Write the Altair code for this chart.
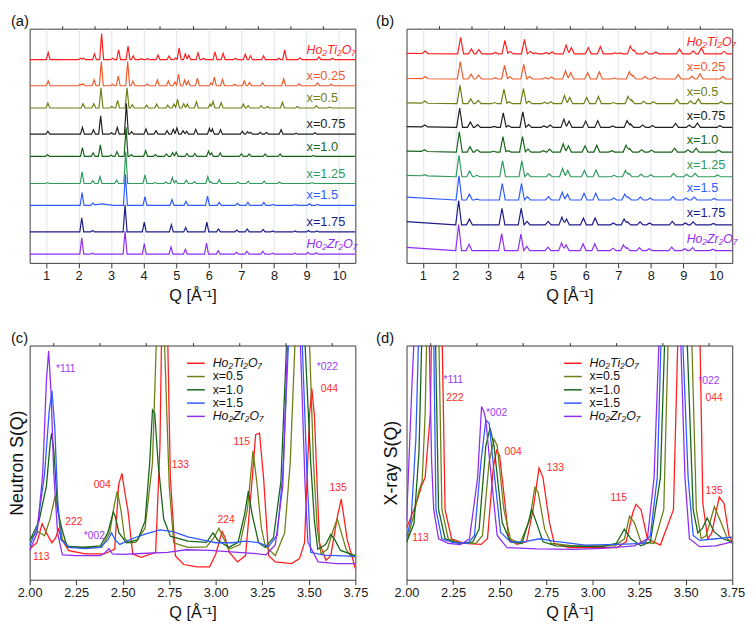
import altair as alt
import pandas as pd

FONT = "Liberation Sans"

NAMES = ["Ho₂Ti₂O₇", "x=0.25", "x=0.5", "x=0.75", "x=1.0", "x=1.25", "x=1.5", "x=1.75", "Ho₂Zr₂O₇"]
COLORS = ["#ff1e1e", "#f15a2b", "#6f7f16", "#1f221c", "#17651a", "#2f9a5c", "#2f5bff", "#1d1d8a", "#8f2ef2"]

# ---------------- (a) neutron S(Q): baselines and peaks (Q, height[, half-width])
N_BASE = [210, 183, 160, 133, 110, 82, 59.5, 32, 9]
N_START = [0, 0, 0, 0, 0, 0, 0, 0, 0]
N_TI = [(1.07, 7.3), (2.06, 1.5), (2.15, 1.7), (2.49, 6), (2.71, 27), (3.05, 1.5), (3.23, 10), (3.52, 14),
        (3.68, 4), (3.93, 1), (4.12, 1.2), (4.44, 4.7), (4.78, 3.7), (4.98, 1.7), (5.09, 12.3), (5.28, 6),
        (5.39, 4.5), (5.67, 7), (5.84, 1.5), (6.19, 8), (6.44, 6.5), (6.82, 1.5), (7.12, 5.5), (7.28, 4),
        (7.68, 4), (8.15, 1.5), (8.33, 10), (8.80, 2), (9.38, 3), (9.80, 1.5)]
N_025 = [(1.07, 5), (2.05, 1.5), (2.14, 2.3), (2.48, 6), (2.70, 25), (3.04, 1.5), (3.22, 10), (3.51, 25),
         (3.67, 4.7), (4.11, 1.7), (4.42, 6), (4.76, 5), (4.96, 4), (5.07, 12), (5.26, 6), (5.37, 5),
         (5.65, 8), (6.07, 3), (6.17, 9), (6.42, 6.5), (6.80, 1.5), (7.09, 5), (7.25, 3.5), (7.65, 3),
         (8.30, 7), (8.77, 2), (9.34, 3), (9.76, 1.5)]
N_050 = [(1.06, 5), (2.14, 4.5), (2.47, 4.5), (2.69, 21), (3.02, 1.5), (3.20, 8), (3.49, 21), (3.65, 3.5),
         (4.09, 3), (4.40, 4), (4.74, 3), (4.93, 4), (5.04, 9), (5.23, 4.5), (5.34, 4), (5.62, 6.5),
         (6.04, 4), (6.13, 7), (6.38, 5.5), (7.06, 4), (7.21, 2.5), (7.61, 2.5), (7.80, 1.5), (8.26, 6),
         (8.72, 1.5), (9.30, 2.5), (9.71, 1)]
N_075 = [(1.06, 3), (2.12, 7), (2.46, 4.5), (2.68, 19), (3.01, 1.5), (3.19, 7), (3.47, 32), (3.63, 2.5),
         (4.07, 5.5), (4.38, 3.5), (4.72, 3.5), (4.91, 5), (5.02, 6.5), (5.21, 3.5), (5.32, 3), (5.60, 5),
         (6.02, 6), (6.11, 5.5), (6.36, 4.5), (7.03, 3), (7.19, 2.5), (7.28, 2), (7.58, 2), (7.77, 2),
         (8.22, 4.5), (8.68, 1), (9.26, 1.5)]
N_100 = [(1.05, 2), (2.12, 9), (2.45, 3.5), (2.67, 12), (3.00, 1.5), (3.18, 5), (3.46, 30), (3.62, 2),
         (4.06, 6), (4.36, 2), (4.70, 2.5), (4.89, 4), (5.00, 4.5), (5.33, 3), (5.57, 3), (5.99, 5.5),
         (6.08, 3.5), (6.35, 3.5), (7.00, 2.5), (7.24, 2.5), (7.73, 2.5), (8.19, 2.5), (9.21, 1)]
N_125 = [(1.05, 1), (2.11, 12), (2.44, 3), (2.66, 7), (3.17, 3.5), (3.45, 33), (4.04, 9), (4.35, 1),
         (4.68, 1.5), (4.88, 6), (4.99, 3), (5.31, 3.5), (5.56, 2), (5.97, 7), (6.06, 2), (6.32, 4),
         (6.89, 1.5), (7.21, 2.5), (7.70, 2.5), (8.17, 1.5), (9.17, 1)]
N_150 = [(2.11, 13), (2.44, 2), (2.72, 1.5, 0.35), (3.44, 32), (4.04, 9), (4.87, 6), (5.30, 4), (5.96, 9.5),
         (6.32, 3), (6.88, 2), (7.20, 3), (7.69, 3), (7.97, 1), (8.67, 1), (9.09, 1.5), (9.34, 1)]
N_175 = [(2.10, 14.5), (2.43, 1.5), (3.43, 28), (4.02, 10), (4.85, 7.5), (5.29, 4.5), (5.94, 10), (6.30, 3),
         (6.86, 2), (7.18, 3), (7.67, 2.5), (7.96, 1), (8.65, 1), (9.06, 1.5), (9.32, 1)]
N_ZR = [(2.10, 17), (2.43, 1), (3.43, 24), (4.02, 11), (4.84, 7.5), (5.28, 5), (5.93, 11.5), (6.29, 3.5),
        (6.85, 2), (7.17, 3), (7.66, 3), (7.96, 1), (8.64, 1), (9.05, 2), (9.30, 1.5)]
N_PEAKS = [N_TI, N_025, N_050, N_075, N_100, N_125, N_150, N_175, N_ZR]

# ---------------- (b) X-ray S(Q)
X_BASE = [216, 190, 164.5, 140, 114.5, 89, 65, 39.3, 12.7]
X_START = [0.5, 0.5, 0.8, 0.8, 1, 1.5, 3, 3.3, 3.3]
X_TI = [(1.07, 2.5), (2.16, 17), (2.49, 5), (2.72, 4.5), (3.23, 1.5), (3.52, 14), (3.68, 2.5), (4.12, 15),
        (4.30, 2.5), (4.45, 1), (4.78, 1.2), (4.97, 2), (5.40, 9), (5.56, 6.5), (6.08, 6.5), (6.45, 7.5),
        (6.90, 1), (7.05, 1), (7.37, 8), (7.48, 4), (7.85, 2.5), (8.15, 2), (8.88, 5), (9.30, 3),
        (9.55, 6), (10.25, 2.5)]
X_025 = [(1.07, 2.3), (2.15, 18), (2.48, 5), (2.71, 4), (3.22, 1.3), (3.51, 14), (3.67, 2.3), (4.10, 15),
         (4.28, 2.5), (4.76, 1.3), (4.95, 2), (5.38, 8.5), (5.54, 6.5), (6.06, 6.5), (6.42, 7.5), (6.88, 1),
         (7.34, 7.5), (7.45, 4), (7.82, 2.5), (8.12, 2), (8.84, 4.5), (9.26, 3), (9.51, 5.5), (10.21, 2.5)]
X_050 = [(1.06, 2.2), (2.14, 19), (2.47, 5), (2.70, 3.5), (3.20, 1.2), (3.49, 15), (3.65, 2), (4.09, 15.5),
         (4.26, 2.7), (4.74, 1.5), (4.93, 2), (5.35, 8.5), (5.51, 6.5), (6.03, 6.5), (6.39, 7.5), (6.85, 1.2),
         (7.30, 7.5), (7.41, 4), (7.78, 2.5), (8.08, 2), (8.80, 4.5), (9.22, 3), (9.46, 5), (10.16, 2.3)]
X_075 = [(1.06, 2), (2.13, 20), (2.46, 5.5), (2.68, 3), (3.19, 1), (3.47, 15), (3.63, 2), (4.07, 16),
         (4.25, 3), (4.72, 1.5), (4.91, 2.5), (5.33, 8.5), (5.49, 6.5), (6.00, 6.5), (6.37, 7), (6.83, 1.5),
         (7.27, 7), (7.38, 3.5), (7.75, 2.5), (8.05, 2), (8.76, 4), (9.18, 2.5), (9.43, 4.5), (10.12, 2)]
X_100 = [(1.05, 1.8), (2.12, 21), (2.45, 5.5), (2.67, 2.5), (3.17, 0.8), (3.46, 16), (3.62, 1.5), (4.06, 16),
         (4.23, 3), (4.70, 1.5), (4.89, 3), (5.31, 8.5), (5.47, 6.5), (5.98, 6.5), (6.34, 7), (6.80, 1.5),
         (7.24, 7), (7.35, 3.5), (7.72, 2.5), (8.02, 2), (8.73, 4), (9.14, 2.5), (9.39, 4), (10.08, 2)]
X_125 = [(1.05, 1.2), (2.11, 22), (2.44, 6), (2.66, 1.5), (3.45, 16.5), (4.04, 16.5), (4.22, 3.5), (4.88, 3),
         (5.29, 8.5), (5.45, 6.5), (5.96, 6.5), (6.32, 7), (6.87, 1.5), (7.22, 6.5), (7.33, 3.5), (7.70, 2.5),
         (8.00, 2), (8.70, 3.5), (9.10, 2.5), (9.36, 3.5), (10.05, 1.8)]
X_150 = [(2.11, 25), (2.43, 6), (2.66, 0.8), (3.44, 17), (4.03, 17), (4.21, 3.5), (4.86, 3.5), (5.28, 8),
         (5.44, 6), (5.95, 7), (6.31, 7), (6.86, 2), (7.20, 6), (7.31, 3), (7.68, 3), (7.98, 2), (8.68, 3.5),
         (9.08, 2), (9.33, 3), (9.95, 1.5)]
X_175 = [(2.10, 25), (2.43, 6), (3.43, 17), (4.02, 17), (4.20, 3.5), (4.85, 3.5), (5.27, 8), (5.41, 6),
         (5.93, 7), (6.29, 7), (6.85, 2), (7.18, 6), (7.29, 3), (7.67, 3), (7.96, 2), (8.66, 3.5), (9.06, 2),
         (9.30, 3), (9.92, 1.5)]
X_ZR = [(2.10, 27), (2.42, 6.5), (3.42, 17.5), (4.01, 17), (4.19, 4.5), (4.84, 3.5), (5.26, 8), (5.40, 6),
        (5.92, 7), (6.28, 7), (6.84, 2.5), (7.16, 6), (7.27, 3), (7.65, 3), (7.95, 2), (8.64, 3.5), (9.04, 2),
        (9.28, 3), (9.90, 1.5)]
X_PEAKS = [X_TI, X_025, X_050, X_075, X_100, X_125, X_150, X_175, X_ZR]

# ---------------- (c),(d) zoomed curves (Q, S)
SUB_NAMES = ["Ho₂Ti₂O₇", "x=0.5", "x=1.0", "x=1.5", "Ho₂Zr₂O₇"]
SUB_COLORS = ["#ff1e1e", "#6f7f16", "#17651a", "#2f5bff", "#8f2ef2"]

C_TI = [(2.00, 13), (2.04, 16), (2.067, 24), (2.09, 20), (2.12, 15.8), (2.14, 18), (2.155, 21.6), (2.175, 17),
        (2.21, 12.4), (2.30, 11), (2.40, 11), (2.457, 13), (2.478, 40.6), (2.496, 45.4), (2.51, 38), (2.528, 29.6),
        (2.554, 11), (2.60, 9.6), (2.677, 11.7), (2.70, 57), (2.71, 110), (2.72, 160), (2.74, 110), (2.756, 43.3),
        (2.783, 10.3), (2.827, 6.5), (2.90, 5.5), (2.967, 5.5), (3.00, 11), (3.034, 20.6), (3.05, 18),
        (3.073, 11.7), (3.117, 7.6), (3.16, 10.3), (3.196, 43.3), (3.214, 61.9), (3.235, 62.6), (3.257, 43.3),
        (3.284, 10.3), (3.32, 7.6), (3.407, 6.9), (3.45, 9), (3.477, 15.8), (3.504, 70.8), (3.516, 81.6),
        (3.53, 70), (3.557, 15.8), (3.592, 8.3), (3.618, 10.3), (3.653, 26.8), (3.674, 34.4), (3.69, 26),
        (3.706, 17.2), (3.75, 4.8)]
C_050 = [(2.00, 17.2), (2.044, 20.6), (2.08, 18.8), (2.11, 26), (2.137, 35.8), (2.155, 28), (2.176, 17.2),
         (2.21, 14.2), (2.30, 13.8), (2.387, 13.8), (2.43, 20), (2.455, 32), (2.471, 37.8), (2.49, 30), (2.51, 18),
         (2.528, 15.8), (2.57, 16), (2.62, 22), (2.66, 50), (2.68, 100), (2.70, 160), (2.725, 100), (2.75, 40),
         (2.774, 15.8), (2.85, 13.8), (2.95, 14), (2.99, 18), (3.017, 22), (3.04, 18), (3.07, 13), (3.13, 15),
         (3.17, 30), (3.20, 55), (3.22, 42), (3.245, 22), (3.266, 14.4), (3.32, 10.3), (3.37, 20), (3.40, 50),
         (3.425, 100), (3.48, 160), (3.504, 100), (3.525, 50), (3.545, 22), (3.565, 11), (3.60, 13), (3.63, 21),
         (3.653, 26), (3.675, 20), (3.70, 13), (3.723, 10.3), (3.75, 9.6)]
C_100 = [(2.00, 16.5), (2.05, 25), (2.09, 40), (2.11, 58), (2.118, 62.6), (2.13, 55), (2.15, 30), (2.17, 22.7),
         (2.20, 14.2), (2.28, 13.8), (2.38, 14.5), (2.42, 20), (2.449, 28.9), (2.46, 27), (2.48, 20), (2.52, 15.8),
         (2.58, 17), (2.62, 25), (2.645, 50), (2.66, 72.5), (2.672, 71), (2.69, 50), (2.72, 26), (2.756, 18.6),
         (2.85, 16.5), (2.95, 16), (2.985, 20), (3.01, 17), (3.07, 13.8), (3.12, 16), (3.155, 28), (3.175, 37.8),
         (3.195, 28), (3.23, 15.8), (3.265, 13.8), (3.31, 18), (3.35, 42), (3.38, 100), (3.46, 160), (3.48, 100),
         (3.51, 50), (3.53, 25), (3.548, 13), (3.59, 15), (3.618, 19.3), (3.64, 17), (3.67, 12.5), (3.75, 10.3)]
C_150 = [(2.00, 14.4), (2.04, 22), (2.08, 45), (2.105, 72), (2.12, 80.7), (2.135, 65), (2.15, 35), (2.167, 17.2),
         (2.21, 13.8), (2.30, 13.3), (2.38, 13.8), (2.42, 17), (2.44, 20), (2.46, 17), (2.484, 15.1), (2.55, 17.5),
         (2.62, 19.5), (2.70, 21.3), (2.77, 20.5), (2.85, 18.3), (2.915, 17.2), (3.00, 15.8), (3.09, 15.8),
         (3.16, 16.5), (3.23, 15.8), (3.284, 14.2), (3.33, 19), (3.36, 45), (3.39, 100), (3.44, 160),
         (3.465, 100), (3.49, 45), (3.51, 11.7), (3.58, 10.5), (3.75, 10)]
C_ZR = [(2.00, 12.4), (2.04, 20), (2.07, 45), (2.09, 85), (2.102, 97.7), (2.115, 80), (2.13, 45), (2.15, 20),
        (2.176, 10.6), (2.25, 10.3), (2.38, 10.3), (2.405, 11.5), (2.426, 13.3), (2.445, 11), (2.50, 10.8),
        (2.60, 11.2), (2.74, 11.7), (2.84, 12.8), (2.97, 12.5), (3.10, 11.8), (3.20, 11.3), (3.27, 10.6),
        (3.32, 15), (3.36, 40), (3.385, 100), (3.43, 160), (3.455, 100), (3.48, 40), (3.495, 16), (3.55, 7.6),
        (3.65, 6.9), (3.75, 6.9)]
C_CURVES = [C_TI, C_050, C_100, C_150, C_ZR]

D_TI = [(2.00, 22), (2.05, 32), (2.084, 40.8), (2.10, 43.6), (2.128, 71), (2.135, 110), (2.165, 160), (2.19, 110),
        (2.207, 29.9), (2.242, 17.5), (2.31, 15.5), (2.40, 15.1), (2.435, 17.5), (2.466, 47.7), (2.484, 55.2),
        (2.50, 53.2), (2.523, 36.7), (2.549, 17.5), (2.593, 15.1), (2.645, 16.2), (2.68, 29.9), (2.712, 47.7),
        (2.733, 43.6), (2.768, 24.4), (2.794, 15.5), (2.873, 13.7), (3.13, 13.7), (3.18, 16.2), (3.215, 28.5),
        (3.233, 32.2), (3.26, 29.9), (3.294, 17.5), (3.364, 14.8), (3.434, 29.9), (3.46, 110), (3.52, 160),
        (3.575, 110), (3.592, 32.6), (3.618, 17.5), (3.64, 20), (3.68, 35.3), (3.706, 32.6), (3.732, 18.9),
        (3.75, 16.2)]
D_050 = [(2.00, 16), (2.04, 28), (2.067, 38), (2.084, 42), (2.10, 71), (2.11, 110), (2.14, 160), (2.172, 110),
         (2.19, 30), (2.224, 17.5), (2.30, 15.5), (2.373, 15.5), (2.408, 18.9), (2.444, 50.4), (2.47, 60),
         (2.487, 57.3), (2.523, 29.9), (2.558, 17.5), (2.61, 15.5), (2.663, 25.8), (2.689, 39.5), (2.707, 37.4),
         (2.742, 21.6), (2.777, 15.5), (2.90, 14.5), (3.12, 14.5), (3.171, 17.5), (3.198, 27.1), (3.224, 24.4),
         (3.259, 16.2), (3.33, 15.5), (3.382, 29.9), (3.408, 110), (3.47, 160), (3.53, 110), (3.557, 29.9),
         (3.583, 17.5), (3.61, 18.9), (3.654, 31.2), (3.69, 24.4), (3.724, 17.5), (3.75, 15.5)]
D_100 = [(2.00, 16), (2.04, 24), (2.067, 54.5), (2.084, 110), (2.12, 160), (2.154, 110), (2.172, 30),
         (2.207, 17.5), (2.28, 15.5), (2.356, 16.2), (2.39, 21.6), (2.426, 57.3), (2.449, 64.8), (2.47, 57.3),
         (2.514, 24.4), (2.558, 16.2), (2.62, 15.5), (2.654, 24.4), (2.672, 30.1), (2.698, 24.4), (2.733, 16.2),
         (2.803, 14.5), (3.05, 14.1), (3.127, 15.5), (3.17, 21.6), (3.206, 17.5), (3.26, 14.5), (3.31, 16.2),
         (3.364, 43.6), (3.39, 110), (3.46, 160), (3.504, 110), (3.54, 29.9), (3.565, 20), (3.59, 22),
         (3.615, 26.4), (3.654, 20.3), (3.70, 17.5), (3.75, 16.2)]
D_150 = [(2.00, 18), (2.025, 26), (2.05, 60), (2.067, 110), (2.11, 160), (2.145, 110), (2.158, 30), (2.19, 17.5),
         (2.25, 15.8), (2.33, 15.5), (2.365, 18.9), (2.40, 50.4), (2.426, 68.2), (2.444, 66.8), (2.47, 46.3),
         (2.505, 20.3), (2.558, 16.2), (2.63, 16.2), (2.715, 17.5), (2.80, 16.4), (2.96, 14.8), (3.136, 15.1),
         (3.277, 15.5), (3.31, 18.9), (3.347, 43.6), (3.37, 110), (3.44, 160), (3.48, 110), (3.513, 43.6),
         (3.54, 18.9), (3.575, 16.8), (3.662, 17.5), (3.75, 18.2)]
D_ZR = [(2.00, 25), (2.03, 85), (2.045, 110), (2.09, 160), (2.12, 110), (2.135, 50), (2.146, 30), (2.172, 17.5),
        (2.224, 15.5), (2.29, 15), (2.338, 17.5), (2.382, 43.6), (2.403, 74), (2.415, 72), (2.426, 68.2),
        (2.452, 46.3), (2.487, 18.9), (2.54, 13.7), (2.70, 13.2), (2.90, 13), (3.05, 13.4), (3.224, 14.5),
        (3.294, 17.5), (3.33, 43.6), (3.36, 110), (3.42, 160), (3.47, 110), (3.496, 43.6), (3.52, 17.5),
        (3.575, 14.1), (3.66, 14.5), (3.75, 16.2)]
D_CURVES = [D_TI, D_050, D_100, D_150, D_ZR]

# peak index annotations (label, Q, S)
C_ANN = [("113", 2.062, 9.6), ("222", 2.237, 24.8), ("004", 2.39, 40.6), ("133", 2.81, 48.8),
         ("224", 3.055, 25.4), ("115", 3.14, 59), ("044", 3.61, 81.6), ("135", 3.657, 39.3),
         ("*111", 2.194, 90.1), ("*002", 2.348, 18.8), ("*022", 3.60, 91)]
D_ANN = [("113", 2.075, 17.8), ("*111", 2.251, 85.3), ("222", 2.26, 77.5), ("*002", 2.484, 71.2),
         ("004", 2.572, 54.5), ("133", 2.80, 47.9), ("115", 3.14, 34.7), ("135", 3.653, 37.8),
         ("*022", 3.624, 84.7), ("044", 3.653, 77.5)]

W, H = 331, 238


def spike_rows(peaks, base, start, hw, name):
    pk = [(p[0], p[1], p[2] if len(p) > 2 else hw) for p in peaks]
    if start:
        pk.append((0.5, start, 1.5))
    qs = {0.5, 10.5}
    for c, h, w in pk:
        qs.update((round(c - w, 4), c, round(c + w, 4)))
    rows = []
    for q in sorted(qs):
        if q < 0.5 or q > 10.5:
            continue
        s = base + sum(max(0.0, h * (1 - abs(q - c) / w)) for c, h, w in pk)
        rows.append({"name": name, "q": q, "s": s})
    return rows


def tag_layer(tag, x):
    return alt.Chart(pd.DataFrame({"t": [tag]})).mark_text(
        align="left", baseline="middle", fontSize=15, color="#111").encode(
        text="t:N", x=alt.value(x), y=alt.value(-8))


def stacked(peaks_all, bases, starts, hw, ytitle, tpad, tag, tag_x, lab_q, lab_dy):
    rows = []
    for name, pk, b, s0 in zip(NAMES, peaks_all, bases, starts):
        rows += spike_rows(pk, b, s0, hw, name)
    df = pd.DataFrame(rows)
    lab = pd.DataFrame({"name": NAMES, "s": bases, "q": [lab_q] * len(NAMES),
                        "it": [n.startswith("Ho") for n in NAMES]})
    xs = alt.Scale(domain=[0.5, 10.5], nice=False, zero=False)
    ys = alt.Scale(domain=[0, 242], nice=False, zero=False)
    col = alt.Color("name:N", scale=alt.Scale(domain=NAMES, range=COLORS), legend=None)
    lines = alt.Chart(df).mark_line(strokeWidth=1.2, clip=True).encode(
        x=alt.X("q:Q", scale=xs, axis=alt.Axis(values=list(range(1, 11)), format="d", title="Q [Å⁻¹]",
                                               grid=True, gridColor="#d5dee8", gridWidth=0.8, tickSize=5,
                                               labelFlush=False, labelPadding=2, titlePadding=5,
                                               titleFontSize=16.5)),
        y=alt.Y("s:Q", scale=ys, axis=alt.Axis(title=ytitle, labels=False, ticks=False, grid=False,
                                               titlePadding=tpad, titleFontSize=15.5)),
        color=col, order="q:Q")
    minor = alt.Chart(pd.DataFrame({"q": [1.5, 2.5]})).mark_rule(opacity=0).encode(
        x=alt.X("q:Q", scale=xs, axis=alt.Axis(values=[i + 0.5 for i in range(1, 10)], labels=False,
                                               tickSize=3, grid=False, title=None)))
    t_it = alt.Chart(lab).transform_filter("datum.it").mark_text(
        align="left", baseline="middle", dy=lab_dy, fontSize=12.5, fontStyle="italic").encode(
        x=alt.X("q:Q", scale=xs, axis=None), y=alt.Y("s:Q", scale=ys, axis=None), text="name:N", color=col)
    t_n = alt.Chart(lab).transform_filter("!datum.it").mark_text(
        align="left", baseline="middle", dy=lab_dy, fontSize=13).encode(
        x=alt.X("q:Q", scale=xs, axis=None), y=alt.Y("s:Q", scale=ys, axis=None), text="name:N", color=col)
    return alt.layer(lines, minor, t_it, t_n, tag_layer(tag, tag_x)).resolve_axis(
        x="independent").properties(width=W, height=H)


def zoomed(curves, ann, ytitle, tpad, tag, tag_x):
    rows = []
    for name, pts in zip(SUB_NAMES, curves):
        rows += [{"name": name, "q": q, "s": s} for q, s in pts]
    df = pd.DataFrame(rows)
    adf = pd.DataFrame(ann, columns=["t", "q", "s"])
    xs = alt.Scale(domain=[2.0, 3.75], nice=False, zero=False)
    ys = alt.Scale(domain=[0, 100], nice=False, zero=False)
    col = alt.Color("name:N", scale=alt.Scale(domain=SUB_NAMES, range=SUB_COLORS), legend=None)
    lines = alt.Chart(df).mark_line(strokeWidth=1.3, clip=True).encode(
        x=alt.X("q:Q", scale=xs, axis=alt.Axis(values=[2.0, 2.25, 2.5, 2.75, 3.0, 3.25, 3.5, 3.75], format=".2f",
                                               title="Q [Å⁻¹]", grid=False, tickSize=5, labelFlush=False,
                                               labelPadding=2, titlePadding=5, titleFontSize=16.5)),
        y=alt.Y("s:Q", scale=ys, axis=alt.Axis(title=ytitle, labels=False, ticks=False, grid=False,
                                               titlePadding=tpad, titleFontSize=18)),
        color=col, order="q:Q")
    minor = alt.Chart(pd.DataFrame({"q": [2.1, 2.2]})).mark_rule(opacity=0).encode(
        x=alt.X("q:Q", scale=xs, axis=alt.Axis(values=[2.125, 2.375, 2.625, 2.875, 3.125, 3.375, 3.625],
                                               labels=False, tickSize=3, grid=False, title=None)))
    a_red = alt.Chart(adf).transform_filter("indexof(datum.t, '*') < 0").mark_text(
        fontSize=10.5, color="#ff2a2a").encode(
        x=alt.X("q:Q", scale=xs, axis=None), y=alt.Y("s:Q", scale=ys, axis=None), text="t:N")
    a_pur = alt.Chart(adf).transform_filter("indexof(datum.t, '*') == 0").mark_text(
        fontSize=10.5, color="#9b3cf0").encode(
        x=alt.X("q:Q", scale=xs, axis=None), y=alt.Y("s:Q", scale=ys, axis=None), text="t:N")
    leg = pd.DataFrame({"name": SUB_NAMES, "row": list(range(len(SUB_NAMES))),
                        "it": [n.startswith("Ho") for n in SUB_NAMES]})
    lys = alt.Scale(type="point", domain=list(range(len(SUB_NAMES))), range=[18, 72], padding=0)
    l_rule = alt.Chart(leg).mark_rule(strokeWidth=1.5).encode(
        x=alt.value(160), x2=alt.value(178), y=alt.Y("row:O", scale=lys, axis=None), color=col)
    l_it = alt.Chart(leg).transform_filter("datum.it").mark_text(
        align="left", baseline="middle", fontSize=12.5, fontStyle="italic", color="#111").encode(
        x=alt.value(186), y=alt.Y("row:O", scale=lys, axis=None), text="name:N")
    l_n = alt.Chart(leg).transform_filter("!datum.it").mark_text(
        align="left", baseline="middle", fontSize=12.5, color="#111").encode(
        x=alt.value(186), y=alt.Y("row:O", scale=lys, axis=None), text="name:N")
    return alt.layer(lines, minor, a_red, a_pur, l_rule, l_it, l_n, tag_layer(tag, tag_x)).resolve_axis(
        x="independent").resolve_scale(y="independent").properties(width=W, height=H)


pa = stacked(N_PEAKS, N_BASE, N_START, 0.06, "Neutron S(Q) [arb. units]", 3, "(a)", -19, 9.0, -10)
pb = stacked(X_PEAKS, X_BASE, X_START, 0.09, "X-ray S(Q) [arb. units]", 13, "(b)", -31, 9.1, -12)
pc = zoomed(C_CURVES, C_ANN, "Neutron S(Q)", 3, "(c)", -19)
pd_ = zoomed(D_CURVES, D_ANN, "X-ray S(Q)", 6, "(d)", -31)

chart = alt.concat(pa, pb, pc, pd_, columns=2, spacing={"row": 84, "column": 52}, bounds="flush",
                   padding={"left": 0, "top": 0, "right": 2, "bottom": 0}).configure(
    font=FONT).configure_view(stroke="#3a3a3a", strokeWidth=1).configure_axis(
    labelFont=FONT, titleFont=FONT, labelFontSize=13, titleFontWeight="normal", labelColor="#1a1a1a",
    titleColor="#111", tickColor="#333", domain=False)

chart.save("out.html", embed_options={"renderer": "svg", "actions": False})
